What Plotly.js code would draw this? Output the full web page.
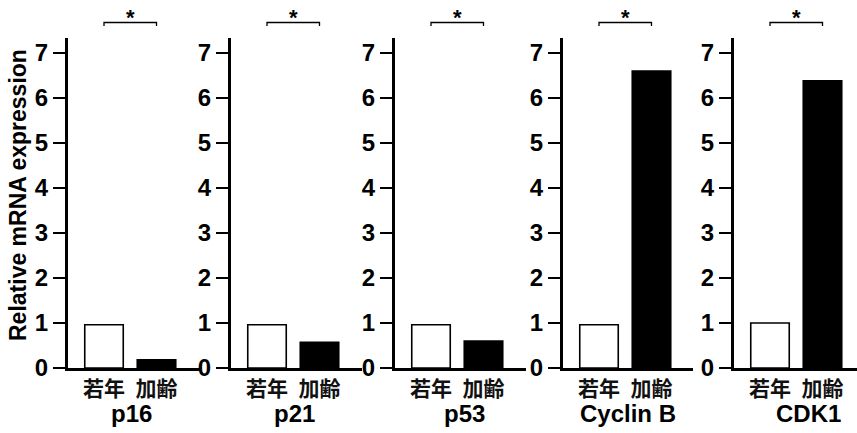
<!DOCTYPE html>
<html>
<head>
<meta charset="utf-8">
<script src="https://cdn.plot.ly/plotly-3.0.1.min.js"></script>
<style>html,body{margin:0;padding:0;background:#fff;}#chart{width:857px;height:433px;}</style>
</head>
<body>
<div id="chart"></div>
<script>
// ---- data ----
var genes = ['p16', 'p21', 'p53', 'Cyclin B', 'CDK1'];
var groups = ['若年', '加齢'];
var young = [0.96, 0.96, 0.96, 0.96, 1.0];
var aged = [0.18, 0.57, 0.6, 6.6, 6.38];
var sig = ['*', '*', '*', '*', '*'];
var yTicks = [0, 1, 2, 3, 4, 5, 6, 7];
var yTitle = 'Relative mRNA expression';

// ---- layout helpers (pixels) ----
var W = 857, H = 433;
var axisLeft = [68, 231, 395, 563, 734];
var axisRight = [200, 362, 526, 693, 857];
var geneOffset = [0.53, 0.53, 0.64, 0.56, 0.73];
var pxPerUnit = 52.5, firstCenter = 36;
var yTopPx = 38, yZeroPx = 368, yPxPerUnit = 45;

var latin = 'Liberation Sans, Arial, sans-serif';
var cjk = 'Noto Sans CJK JP, sans-serif';

var data = [];
var layout = {
  width: W, height: H,
  margin: {l: 0, r: 0, t: 0, b: 0},
  paper_bgcolor: '#fff', plot_bgcolor: '#fff',
  showlegend: false,
  bargap: 0,
  shapes: [], annotations: []
};

var yDomain = [1 - yZeroPx / H, 1 - yTopPx / H];
var yMax = (yZeroPx - yTopPx) / yPxPerUnit;

for (var i = 0; i < genes.length; i++) {
  var n = i === 0 ? '' : String(i + 1);
  var xa = 'x' + n, ya = 'y' + n;
  var wpx = axisRight[i] - axisLeft[i];
  var start = -firstCenter / pxPerUnit;
  var end = start + wpx / pxPerUnit;
  var bw = 38.5 / pxPerUnit;

  data.push({
    type: 'bar', x: [0], y: [young[i]], xaxis: xa, yaxis: ya, width: bw,
    marker: {color: '#fff', line: {color: '#000', width: 1.6}}, hoverinfo: 'skip'
  });
  data.push({
    type: 'bar', x: [1], y: [aged[i]], xaxis: xa, yaxis: ya, width: bw,
    marker: {color: '#000', line: {color: '#000', width: 1.6}}, hoverinfo: 'skip'
  });

  layout['xaxis' + n] = {
    domain: [axisLeft[i] / W, axisRight[i] / W],
    range: [start, end], anchor: ya,
    showline: true, linecolor: '#000', linewidth: 3,
    ticks: '', showgrid: false, zeroline: false,
    tickvals: [0, 1], ticktext: groups,
    tickfont: {family: cjk, size: 21, color: '#111', weight: 700},
    ticklabelstandoff: 0, fixedrange: true
  };
  layout['yaxis' + n] = {
    domain: yDomain, range: [0, yMax], anchor: xa,
    showline: true, linecolor: '#000', linewidth: 3,
    ticks: 'outside', ticklen: 12, tickwidth: 2, tickcolor: '#000',
    tickvals: yTicks, ticktext: yTicks.map(String),
    tickfont: {family: latin, size: 24, color: '#000', weight: 700},
    showgrid: false, zeroline: false, fixedrange: true
  };

  // significance bracket
  var yb = 1 - 22.5 / H, yb2 = 1 - 26 / H;
  layout.shapes.push({
    type: 'path', xref: xa, yref: 'paper',
    path: 'M 0,' + yb2 + ' L 0,' + yb + ' L 1,' + yb + ' L 1,' + yb2,
    line: {color: '#000', width: 1.3}
  });
  layout.annotations.push({
    xref: xa, yref: 'paper', x: 0.5, y: 1 - 17 / H, text: sig[i],
    showarrow: false, xanchor: 'center', yanchor: 'middle',
    font: {family: latin, size: 22, color: '#000', weight: 700}
  });
  // gene label
  layout.annotations.push({
    xref: xa, yref: 'paper', x: geneOffset[i], y: 1 - 413 / H, text: genes[i],
    showarrow: false, xanchor: 'center', yanchor: 'middle',
    font: {family: latin, size: 24, color: '#000', weight: 700}
  });
}

layout.annotations.push({
  xref: 'paper', yref: 'paper', x: 18 / W, y: 1 - 195 / H, text: yTitle,
  showarrow: false, textangle: -90, xanchor: 'center', yanchor: 'middle',
  font: {family: latin, size: 23, color: '#000', weight: 700}
});

Plotly.newPlot('chart', data, layout, {staticPlot: true, displayModeBar: false});
</script>
</body>
</html>
